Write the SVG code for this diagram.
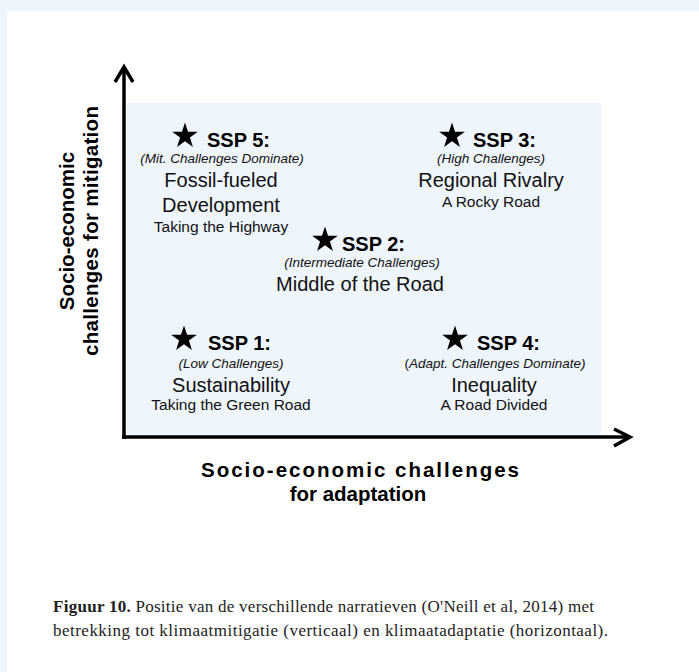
<svg xmlns="http://www.w3.org/2000/svg" width="699" height="672" viewBox="0 0 699 672">
<style>
.ssp{font-family:"Liberation Sans",Arial,sans-serif;font-weight:bold;font-size:20px;fill:#000}
.it{font-family:"Liberation Sans",Arial,sans-serif;font-style:italic;font-size:13.5px;fill:#111;text-anchor:middle}
.nm{font-family:"Liberation Sans",Arial,sans-serif;font-size:20px;fill:#111;text-anchor:middle}
.sub{font-family:"Liberation Sans",Arial,sans-serif;font-size:15.5px;fill:#111;text-anchor:middle}
.ax{font-family:"Liberation Sans",Arial,sans-serif;font-weight:bold;font-size:20.5px;fill:#000;text-anchor:middle}
.cap{font-family:"Liberation Serif","Times New Roman",serif;font-size:17px;fill:#222}
.axis{stroke:#000;stroke-width:3.5;fill:none}
</style>
<defs>
<polygon id="star" points="0,-12.5 2.81,-3.87 11.89,-3.86 4.55,1.48 7.35,10.11 0,4.78 -7.35,10.11 -4.55,1.48 -11.89,-3.86 -2.81,-3.87" fill="#000" transform="scale(1.08)"/>
</defs>
<rect x="0" y="0" width="699" height="672" fill="#fff"/>
<rect x="0" y="0" width="699" height="11" fill="#eef5fc"/>
<rect x="0" y="0" width="7" height="672" fill="#eef5fc"/>
<rect x="127" y="103" width="474" height="334" fill="#eef5fc"/>
<g id="connectors">
<line class="axis" x1="124" y1="439" x2="124" y2="67"/>
<polyline class="axis" points="115,82 124,67 133,82"/>
<line class="axis" x1="122" y1="437" x2="630" y2="437"/>
<polyline class="axis" points="614,429 630,437 614,446"/>
</g>
<g id="ssp5">
<use href="#star" x="185" y="136"/>
<text class="ssp" x="207" y="147">SSP 5:</text>
<text class="it" x="222" y="163">(Mit. Challenges Dominate)</text>
<text class="nm" x="221" y="187">Fossil-fueled</text>
<text class="nm" x="221" y="212">Development</text>
<text class="sub" x="221" y="232">Taking the Highway</text>
</g>
<g id="ssp3">
<use href="#star" x="452" y="136"/>
<text class="ssp" x="473" y="147">SSP 3:</text>
<text class="it" x="491" y="163">(High Challenges)</text>
<text class="nm" x="491" y="187">Regional Rivalry</text>
<text class="sub" x="491" y="207">A Rocky Road</text>
</g>
<g id="ssp2">
<use href="#star" x="325" y="240"/>
<text class="ssp" x="342" y="251">SSP 2:</text>
<text class="it" x="362" y="267">(Intermediate Challenges)</text>
<text class="nm" x="360" y="291">Middle of the Road</text>
</g>
<g id="ssp1">
<use href="#star" x="184" y="339"/>
<text class="ssp" x="208" y="350">SSP 1:</text>
<text class="it" x="231" y="368">(Low Challenges)</text>
<text class="nm" x="231" y="392">Sustainability</text>
<text class="sub" x="231" y="410">Taking the Green Road</text>
</g>
<g id="ssp4">
<use href="#star" x="455" y="339"/>
<text class="ssp" x="477" y="350">SSP 4:</text>
<text class="it" x="495" y="368"><tspan font-style="normal">(</tspan>Adapt. Challenges Dominate)</text>
<text class="nm" x="494" y="392">Inequality</text>
<text class="sub" x="494" y="410">A Road Divided</text>
</g>
<g id="y-label">
<text class="ax" transform="translate(74,231) rotate(-90)" x="0" y="0">Socio-economic</text>
<text class="ax" transform="translate(98,231) rotate(-90)" x="0" y="0" textLength="250" lengthAdjust="spacing">challenges for mitigation</text>
</g>
<g id="x-label">
<text class="ax" x="360" y="477" textLength="318" lengthAdjust="spacing">Socio-economic challenges</text>
<text class="ax" x="358" y="501">for adaptation</text>
</g>
<g id="caption">
<text class="cap" x="53" y="612" textLength="541" lengthAdjust="spacing"><tspan font-weight="bold">Figuur 10.</tspan>  Positie van de verschillende narratieven (O'Neill et al, 2014) met</text>
<text class="cap" x="53" y="636" textLength="555" lengthAdjust="spacing">betrekking tot klimaatmitigatie (verticaal) en klimaatadaptatie (horizontaal).</text>
</g>
</svg>
